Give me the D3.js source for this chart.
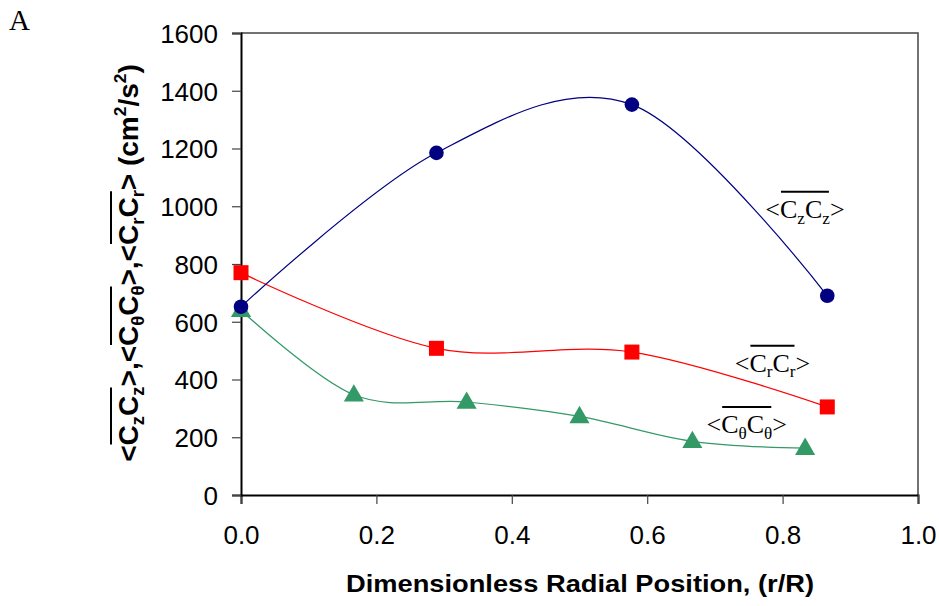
<!DOCTYPE html>
<html>
<head>
<meta charset="utf-8">
<script src="https://cdn.jsdelivr.net/npm/d3@7"></script>
<style>
  body { margin: 0; background: #fff; }
  svg { display: block; }
</style>
</head>
<body>
<script>
// データ
var xCz = [0, 0.2887, 0.5774, 0.866];
var yCz = [652, 1185, 1352, 690];

var xCr = [0, 0.2887, 0.5774, 0.866];
var yCr = [770, 508, 495, 305];

var xCt = [0, 0.1667, 0.3333, 0.5, 0.6667, 0.8333];
var yCt = [640, 347, 322, 272, 186, 162];

var xTicks = [0, 0.2, 0.4, 0.6, 0.8, 1.0];
var yTicks = [0, 200, 400, 600, 800, 1000, 1200, 1400, 1600];

// 系列ラベル（データ座標で配置）
var seriesLabels = [
  { sub: "z", x: 0.833, y: 960 },
  { sub: "r", x: 0.785, y: 427 },
  { sub: "\u03b8", x: 0.747, y: 215 }
];

var width = 939;
var height = 606;
var margin = { left: 241, right: 21, top: 33, bottom: 111 };

var svg = d3.select("body")
  .append("svg")
  .attr("width", width)
  .attr("height", height);

var x = d3.scaleLinear().domain([0, 1]).range([margin.left, width - margin.right]);
var y = d3.scaleLinear().domain([0, 1600]).range([height - margin.bottom, margin.top]);

// 枠（上・右）
svg.append("path")
  .attr("d", "M" + x(0) + "," + y(1600) + "H" + x(1) + "V" + y(0))
  .attr("fill", "none")
  .attr("stroke", "#444")
  .attr("stroke-width", 1.5);

// 軸
var xAxis = svg.append("g")
  .attr("transform", "translate(0," + y(0) + ")")
  .call(d3.axisBottom(x).tickValues(xTicks).tickFormat(d3.format(".1f")).tickSize(9).tickPadding(22));

var yAxis = svg.append("g")
  .attr("transform", "translate(" + x(0) + ",0)")
  .call(d3.axisLeft(y).tickValues(yTicks).tickSize(9).tickPadding(14).tickFormat(d3.format("d")));

[xAxis, yAxis].forEach(function (a) {
  a.select(".domain").attr("stroke", "#000").attr("stroke-width", 2);
  a.selectAll(".tick line").attr("stroke", "#444").attr("stroke-width", 1.2);
  a.selectAll(".tick text")
    .attr("font-family", "Arial, 'Liberation Sans', sans-serif")
    .attr("font-size", 26)
    .attr("fill", "#000");
});
yAxis.selectAll(".tick text").attr("dy", "0.36em");

// 曲線（Excelのスムージング ≒ Catmull-Rom）
var line = d3.line()
  .x(function (d) { return x(d[0]); })
  .y(function (d) { return y(d[1]); })
  .curve(d3.curveCardinal.tension(0));

var czData = d3.zip(xCz, yCz);
var crData = d3.zip(xCr, yCr);
var ctData = d3.zip(xCt, yCt);

svg.append("path").datum(ctData).attr("d", line)
  .attr("fill", "none").attr("stroke", "#339966").attr("stroke-width", 1.2);
svg.append("path").datum(crData).attr("d", line)
  .attr("fill", "none").attr("stroke", "#ff0000").attr("stroke-width", 1.2);
svg.append("path").datum(czData).attr("d", line)
  .attr("fill", "none").attr("stroke", "#000080").attr("stroke-width", 1.2);

// マーカー
svg.selectAll(".tri").data(ctData).enter().append("path")
  .attr("class", "tri")
  .attr("d", d3.symbol().type(d3.symbolTriangle).size(175))
  .attr("transform", function (d) { return "translate(" + x(d[0]) + "," + (y(d[1]) + 1) + ")"; })
  .attr("fill", "#339966");

svg.selectAll(".sq").data(crData).enter().append("rect")
  .attr("class", "sq")
  .attr("x", function (d) { return x(d[0]) - 7.5; })
  .attr("y", function (d) { return y(d[1]) - 7.5; })
  .attr("width", 15).attr("height", 15)
  .attr("fill", "#ff0000");

svg.selectAll(".dot").data(czData).enter().append("circle")
  .attr("class", "dot")
  .attr("cx", function (d) { return x(d[0]); })
  .attr("cy", function (d) { return y(d[1]); })
  .attr("r", 7.3)
  .attr("fill", "#000080");

// 添字・上線つきテキストを並べる関数
// runs: [{t, kind: "sub"|"sup"|undefined, over: グループID}]
function richText(g, runs, size, family, weight, overGap) {
  var cx = 0;
  var overs = {};
  runs.forEach(function (r) {
    var fs = size, dy = 0;
    if (r.kind === "sub") { fs = size * 0.66; dy = size * 0.22; }
    if (r.kind === "sup") { fs = size * 0.62; dy = -size * 0.42; }
    var t = g.append("text")
      .attr("x", cx).attr("y", dy)
      .attr("font-family", family)
      .attr("font-size", fs)
      .attr("font-weight", weight)
      .attr("fill", "#000")
      .text(r.t);
    var w = t.node().getComputedTextLength();
    if (r.over !== undefined) {
      if (!overs[r.over]) overs[r.over] = [cx, cx + w];
      else overs[r.over][1] = cx + w;
    }
    cx += w;
  });
  Object.keys(overs).forEach(function (k) {
    g.append("line")
      .attr("x1", overs[k][0] + 1).attr("x2", overs[k][1] - 1)
      .attr("y1", -overGap).attr("y2", -overGap)
      .attr("stroke", "#000").attr("stroke-width", 2);
  });
  return cx;
}

// 系列ラベル
var serif = "'Times New Roman', 'Liberation Serif', serif";
seriesLabels.forEach(function (s) {
  var g = svg.append("g");
  var w = richText(g, [
    { t: "<" },
    { t: "C", over: 0 }, { t: s.sub, kind: "sub", over: 0 },
    { t: "C", over: 0 }, { t: s.sub, kind: "sub", over: 0 },
    { t: ">" }
  ], 26, serif, "normal", 26);
  g.attr("transform", "translate(" + (x(s.x) - w / 2) + "," + y(s.y) + ")");
});

// y軸タイトル
var sans = "Arial, 'Liberation Sans', sans-serif";
var yt = svg.append("g");
var yw = richText(yt, [
  { t: "<" }, { t: "C", over: 0 }, { t: "z", kind: "sub", over: 0 }, { t: "C", over: 0 }, { t: "z", kind: "sub", over: 0 }, { t: ">, " },
  { t: "<" }, { t: "C", over: 1 }, { t: "\u03b8", kind: "sub", over: 1 }, { t: "C", over: 1 }, { t: "\u03b8", kind: "sub", over: 1 }, { t: ">, " },
  { t: "<" }, { t: "C", over: 2 }, { t: "r", kind: "sub", over: 2 }, { t: "C", over: 2 }, { t: "r", kind: "sub", over: 2 }, { t: "> (cm" },
  { t: "2", kind: "sup" }, { t: "/s" }, { t: "2", kind: "sup" }, { t: ")" }
], 28, sans, "bold", 27);
yt.attr("transform", "translate(138," + (263 + yw / 2) + ") rotate(-90)");

// x軸タイトル
svg.append("text")
  .attr("x", 580).attr("y", 592)
  .attr("text-anchor", "middle")
  .attr("font-family", sans)
  .attr("font-size", 24)
  .attr("font-weight", "bold")
  .attr("textLength", 468)
  .attr("lengthAdjust", "spacingAndGlyphs")
  .text("Dimensionless Radial Position, (r/R)");

// パネル記号
svg.append("text")
  .attr("x", 9).attr("y", 30)
  .attr("font-family", serif)
  .attr("font-size", 29)
  .text("A");
</script>
</body>
</html>
